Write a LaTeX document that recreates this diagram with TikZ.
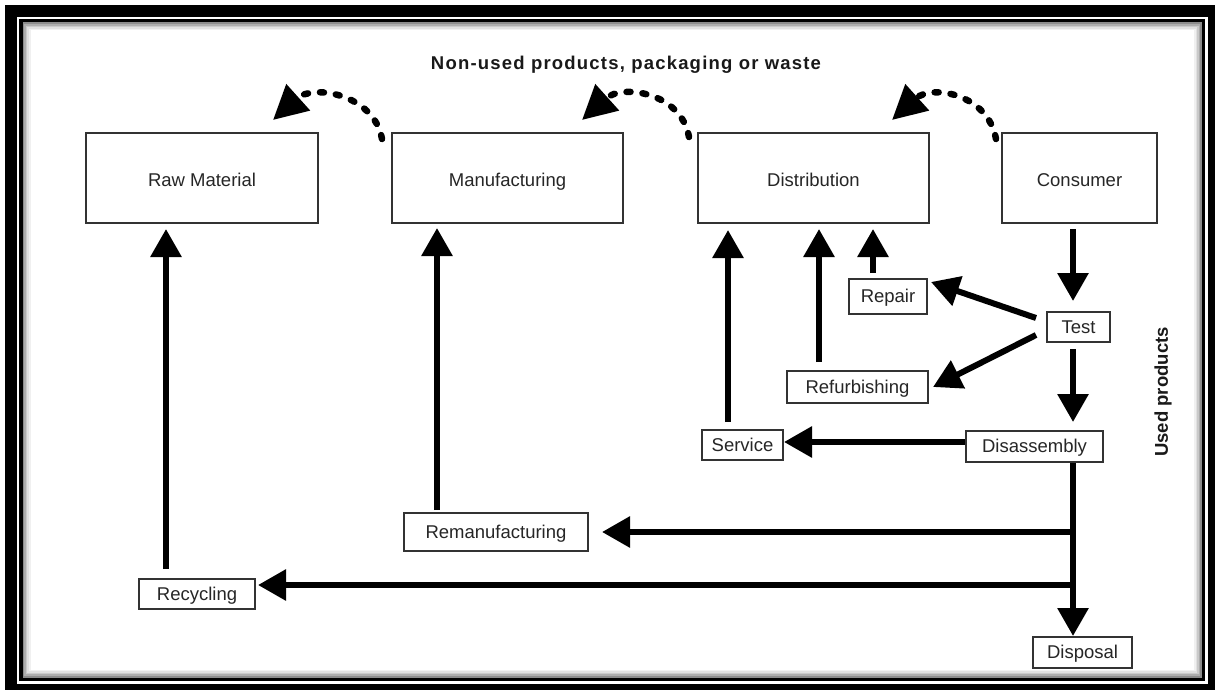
\documentclass[tikz,border=0pt]{standalone}
\usepackage{fontspec}
\setmainfont{Liberation Sans}
\usetikzlibrary{arrows.meta,calc}

\begin{document}
\begin{tikzpicture}[x=1pt,y=-1pt,
  box/.style 2 args={draw=black!80, line width=2pt, fill=white, text=black!85,
    font=\fontsize{18.5}{21}\selectfont, inner sep=0pt,
    text height=12pt, text depth=0pt,
    minimum width=#1pt, minimum height=#2pt},
  stage/.style={text height=16pt},
  arr/.style={-{Triangle[length=28pt,width=30pt]}, line width=6pt, black},
  dsh/.style={-{Triangle[length=34pt,width=34pt]}, line width=6.5pt, black,
    line cap=round, dash pattern=on 4pt off 12pt},
  lbl/.style={text=black!90, font=\fontsize{18.5}{21}\selectfont\bfseries},
]
\useasboundingbox (0,0) rectangle (1215,690);

% double frame with a soft inner shadow
\fill[black] (5,5) rectangle (1215,690);
\fill[white] (17,17) rectangle (1208,683.5);
\fill[black] (19,19) rectangle (1205,681);
\fill[white] (22.5,22.5) rectangle (1202,677.5);
\foreach \i/\c in {0/45,1/32,2/21,3/12,4/6}
  \draw[line width=1.6pt, black!\c]
    ({23.3+1.6*\i},{23.3+1.6*\i}) rectangle ({1201.2-1.6*\i},{676.7-1.6*\i});

% supply chain stages
\node[box={232}{90}, stage] (raw)    at (202,178)    {Raw Material};
\node[box={231}{90}, stage] (manuf)  at (507.5,178)  {Manufacturing};
\node[box={231}{90}, stage] (distr)  at (813.5,178)  {Distribution};
\node[box={155}{90}, stage] (cons)   at (1079.5,178) {Consumer};

% recovery options
\node[box={78}{35}]  (repair) at (888,296.5)  {Repair};
\node[box={63}{30}]  (test)   at (1078.5,327) {Test};
\node[box={141}{32}] (refurb) at (857.5,387)  {Refurbishing};
\node[box={81}{30}]  (service) at (742.5,445) {Service};
\node[box={137}{31}] (disasm) at (1034.5,446.5) {Disassembly};
\node[box={184}{38}] (reman)  at (496,532)    {Remanufacturing};
\node[box={116}{30}] (recyc)  at (197,594)    {Recycling};
\node[box={99}{31}]  (disp)   at (1082.5,652.5) {Disposal};

% labels
\node[lbl] (title) at (626,65)
  {\addfontfeatures{LetterSpace=6.5}Non-used products, packaging or waste};
\node[lbl, rotate=90] (used) at (1163,392) {Used products};

% forward flow of waste (dashed)
\coordinate (w1) at (273,120);
\coordinate (w2) at (582,120);
\coordinate (w3) at (892,120);
\draw[dsh] ([shift={(-9,7)}]manuf.north west) .. controls +(-8,-45) and +(40,-36) .. (w1);
\draw[dsh] ([shift={(-8,5)}]distr.north west) .. controls +(-8,-45) and +(40,-36) .. (w2);
\draw[dsh] ([shift={(-5,7)}]cons.north west) .. controls +(-8,-45) and +(40,-36) .. (w3);

% used products path
\draw[arr, shorten <=5pt, shorten >=10pt] ([xshift=-6.5pt]cons.south) -- ([xshift=-6.5pt]cons.south |- test.north);
\draw[arr, shorten <=6pt, shorten >=8pt] ([xshift=-5.5pt]test.south) -- ([xshift=-5.5pt]test.south |- disasm.north);
\draw[arr] ([shift={(-10,-9)}]test.west) -- ([shift={(3,-14.5)}]repair.east);
\draw[arr] ([shift={(-10,8)}]test.west) -- ([shift={(4,0)}]refurb.east);
\draw[arr] ([yshift=4.5pt]disasm.west) -- ([yshift=4.5pt]disasm.west -| service.east);

% trunk below disassembly
\coordinate (trunk) at ([xshift=38.5pt]disasm.south);
\coordinate (recin) at ([yshift=9pt]recyc.east);
\draw[arr] (trunk) -- (trunk |- disp.north);
\draw[arr, shorten >=13pt] (trunk |- reman.east) -- (reman.east);
\draw[arr, shorten >=2pt] (trunk |- recin) -- (recin);

% returns into the chain
\draw[arr, shorten <=9pt, shorten >=5pt] ([xshift=-31pt]recyc.north) -- ([xshift=-31pt]recyc.north |- raw.south);
\draw[arr, shorten <=2pt, shorten >=4pt] ([xshift=-59pt]reman.north) -- ([xshift=-59pt]reman.north |- manuf.south);
\draw[arr, shorten <=7pt, shorten >=6pt] ([xshift=-14.5pt]service.north) -- ([xshift=-14.5pt]service.north |- distr.south);
\draw[arr, shorten <=8pt, shorten >=5pt] ([xshift=-38.5pt]refurb.north) -- ([xshift=-38.5pt]refurb.north |- distr.south);
\draw[arr, shorten <=5pt, shorten >=5pt] ([xshift=-15pt]repair.north) -- ([xshift=-15pt]repair.north |- distr.south);
\end{tikzpicture}
\end{document}
